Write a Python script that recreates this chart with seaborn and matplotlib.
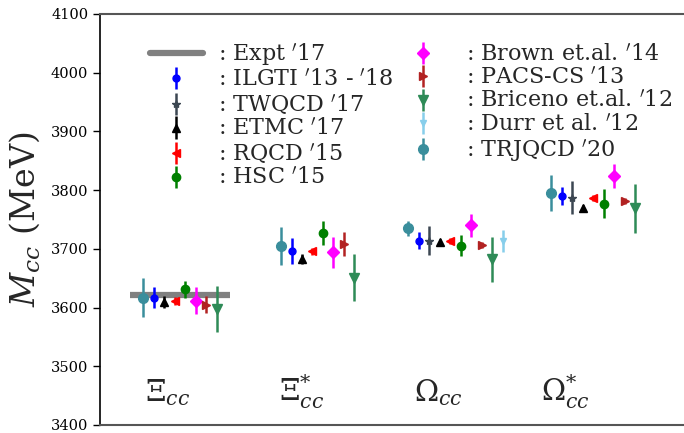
import matplotlib
matplotlib.use("Agg")
import pandas as pd
import seaborn as sns
from matplotlib import pyplot as plt
from matplotlib.lines import Line2D

# Doubly charmed baryon masses (MeV), one entry per state; None = not computed
groups = [r'$\Xi_{cc}$', r'$\Xi^{*}_{cc}$', r'$\Omega_{cc}$', r'$\Omega^{*}_{cc}$']
expt_mass = [3621.4, None, None, None]

trjqcd = [3617, 3705, 3735, 3795]
trjqcd_err = [33, 33, 13, 30]
ilgti = [3617, 3697, 3714, 3790]
ilgti_err = [18, 22, 14, 16]
twqcd = [None, None, 3714, 3787]
twqcd_err = [None, None, 25, 28]
etmc = [3609, 3683, 3712, 3770]
etmc_err = [10, 8, 5, 5]
rqcd = [3611, 3696, 3714, 3787]
rqcd_err = [7, 6, 5, 5]
hsc = [3631, 3727, 3705, 3777]
hsc_err = [15, 20, 18, 25]
brown = [3612, 3694, 3740, 3824]
brown_err = [23, 27, 19, 20]
pacs = [3605, 3708, 3706, 3781]
pacs_err = [14, 21, 5, 5]
briceno = [3597, 3651, 3682, 3769]
briceno_err = [39, 40, 39, 42]
durr = [None, None, 3713, None]
durr_err = [None, None, 19, None]

# legend order
legend_names = ["ILGTI $'$13 - $'$18", "TWQCD $'$17", "ETMC $'$17", "RQCD $'$15",
                "HSC $'$15", "Brown et.al. $'$14", "PACS-CS $'$13",
                "Briceno et.al. $'$12", "Durr et al. $'$12", "TRJQCD $'$20"]
values = [ilgti, twqcd, etmc, rqcd, hsc, brown, pacs, briceno, durr, trjqcd]
errors = [ilgti_err, twqcd_err, etmc_err, rqcd_err, hsc_err, brown_err, pacs_err,
          briceno_err, durr_err, trjqcd_err]
# left-to-right order inside each group
slot_order = [9, 0, 1, 2, 3, 4, 5, 6, 7, 8]

styles = [
    dict(color='blue', marker='o', ms=5),
    dict(color='#3c4752', marker='*', ms=6),
    dict(color='black', marker='^', ms=6),
    dict(color='red', marker='<', ms=6),
    dict(color='green', marker='o', ms=6),
    dict(color='magenta', marker='D', ms=6),
    dict(color='firebrick', marker='>', ms=6),
    dict(color='seagreen', marker='v', ms=7),
    dict(color='skyblue', marker='v', ms=5),
    dict(color='#3a8e9c', marker='o', ms=7),
]

rows = []
for g in range(len(groups)):
    present = [i for i in slot_order if values[i][g] is not None]
    n = len(present)
    for k, i in enumerate(present):
        rows.append({'name': legend_names[i], 'idx': i, 'group': g,
                     'x': g + (k - (n - 1) / 2) * 0.076,
                     'mass': values[i][g], 'err': errors[i][g]})
df = pd.DataFrame(rows)

sns.set_theme(style="white")
plt.rcParams['font.family'] = ['DejaVu Serif']
plt.rcParams['mathtext.fontset'] = 'dejavuserif'

fig = plt.figure(figsize=(6.84, 4.33), dpi=100)
ax = fig.add_axes([100 / 684, 8 / 433, 584 / 684, 411 / 433])

handles = []
for g, m in enumerate(expt_mass):
    if m is not None:
        ax.hlines(m, g - 0.36, g + 0.36, color='#808080', lw=4.5, zorder=1)
handles.append(Line2D([], [], color='#808080', lw=4.5))

for i, name in enumerate(legend_names):
    sub = df[df['idx'] == i]
    st = styles[i]
    h = ax.errorbar(sub['x'], sub['mass'], yerr=sub['err'], fmt=st['marker'],
                    color=st['color'], ms=st['ms'], elinewidth=1.8, capsize=0,
                    zorder=3)
    handles.append(h)

labels = [": Expt $'$17"] + [": " + n for n in legend_names]
ax.legend(handles, labels, ncol=2, loc='upper left', bbox_to_anchor=(0.062, 0.966),
          frameon=False, fontsize=16, handlelength=2.4, handletextpad=0.7,
          labelspacing=0.06, columnspacing=0.12, borderaxespad=0.2)

label_x = [-0.09, 0.88, 1.88, 2.80]
for g, lab in enumerate(groups):
    ax.text(label_x[g], 3441, lab, fontsize=21, ha='center', va='baseline')

ax.set_xlim(-0.581, 3.66)
ax.set_ylim(3400, 4100)
ax.set_yticks(range(3400, 4101, 100))
ax.set_xticks([])
ax.tick_params(axis='y', direction='out', length=5, width=1, labelsize=10.5,
               left=True, colors='black')
ax.set_ylabel(r'$M_{cc}$ (MeV)', fontsize=24, labelpad=6)
ax.spines['right'].set_visible(False)
ax.spines['left'].set_color('black')
ax.spines['left'].set_linewidth(1.2)
for s in ['top', 'bottom']:
    ax.spines[s].set_color('#555555')
    ax.spines[s].set_linewidth(1.5)

fig.savefig('out.png', dpi=100)
